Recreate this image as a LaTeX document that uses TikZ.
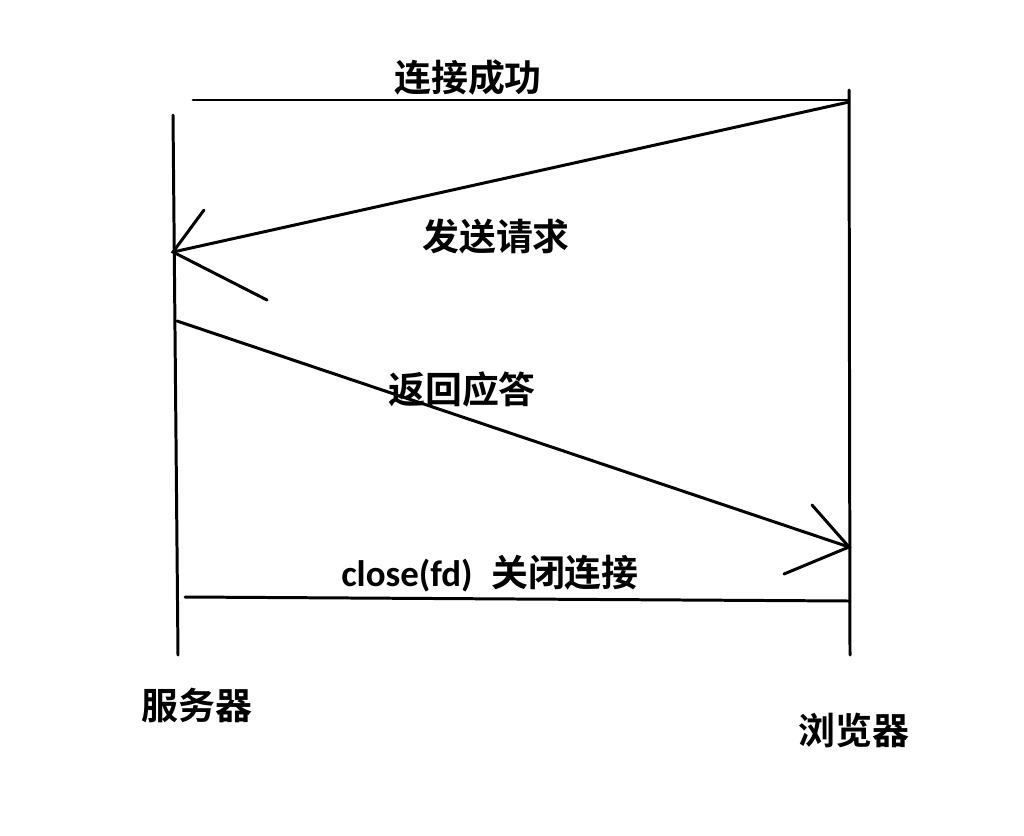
\documentclass[tikz,border=0pt]{standalone}
\usepackage{fontspec}
\setmainfont{Carlito}
\newfontfamily\cjk{Noto Sans CJK SC}[BoldFont={* Bold}]
\usetikzlibrary{positioning}
\tikzset{
  pen/.style={line width=1.7pt, line cap=round},
  lbl/.style={font=\fontsize{21}{24}\selectfont\bfseries\cjk, inner sep=0pt}
}
\begin{document}
\begin{tikzpicture}[x=0.02cm, y=-0.02cm]
    \useasboundingbox (0,0) rectangle (1024,835);
    % lifelines
    \coordinate (srvtop) at (173,115);
    \coordinate (srvbot) at (178,655);
    \coordinate (brwtop) at (849,90);
    \coordinate (brwbot) at (850,655);
    \draw[pen] (srvtop) -- (srvbot);
    \draw[pen] (brwtop) -- (brwbot);
    % messages
    \coordinate (okL) at (193,100);
    \coordinate (okR) at (849,100);
    \draw[pen] (okL) -- (okR);
    \coordinate (reqS) at (849,102);
    \coordinate (reqE) at (173,252);
    \coordinate (reqA) at (204,210);
    \coordinate (reqB) at (267,300);
    \draw[pen] (reqS) -- (reqE);
    \draw[pen] (reqA) -- (reqE) -- (reqB);
    \coordinate (ansS) at (177,321);
    \coordinate (ansE) at (849,547);
    \coordinate (ansA) at (812,505);
    \coordinate (ansB) at (784,574);
    \draw[pen] (ansS) -- (ansE);
    \draw[pen] (ansA) -- (ansE) -- (ansB);
    \coordinate (clsL) at (185,597);
    \coordinate (clsR) at (849,601);
    \draw[pen] (clsL) -- (clsR);
    % labels
    \node[lbl] (okT) at (468,78) {连接成功};
    \node[lbl] (reqT) at (496,236) {发送请求};
    \node[lbl] (ansT) at (462,389) {返回应答};
    \node[lbl] (clsT) at (490,574) {{\rmfamily close(fd)}\hspace{0.5em}关闭连接};
    \node[lbl] (srvT) at (197,705) {服务器};
    \node[lbl] (brwT) at (854,730) {浏览器};
\end{tikzpicture}
\end{document}
